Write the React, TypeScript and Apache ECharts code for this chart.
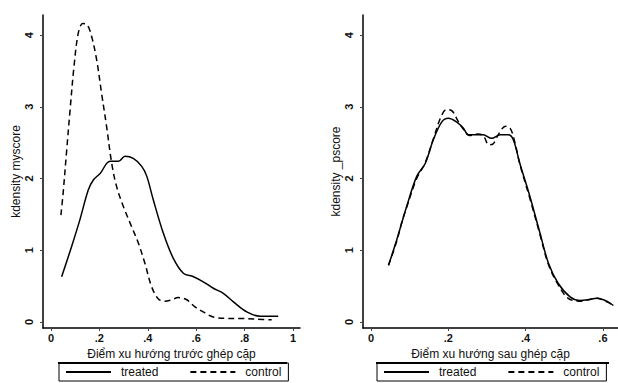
import React, { useEffect, useRef } from "react";
import * as echarts from "echarts";

// Left panel: before matching (kdensity myscore)
const beforeTreatedX = [0.044, 0.085, 0.119, 0.154, 0.175, 0.203, 0.244, 0.279, 0.306, 0.34, 0.375, 0.396, 0.423, 0.464, 0.505, 0.547, 0.589, 0.629, 0.671, 0.712, 0.754, 0.809, 0.864, 0.939];
const beforeTreatedY = [0.63, 1.05, 1.42, 1.84, 1.98, 2.07, 2.24, 2.24, 2.31, 2.28, 2.17, 2.03, 1.7, 1.24, 0.89, 0.68, 0.63, 0.56, 0.47, 0.4, 0.28, 0.14, 0.08, 0.08];
const beforeControlX = [0.041, 0.05, 0.065, 0.079, 0.095, 0.113, 0.131, 0.15, 0.168, 0.189, 0.209, 0.23, 0.251, 0.271, 0.299, 0.333, 0.361, 0.388, 0.416, 0.444, 0.471, 0.499, 0.526, 0.561, 0.595, 0.629, 0.671, 0.726, 0.781, 0.85, 0.912];
const beforeControlY = [1.49, 1.79, 2.4, 2.96, 3.56, 4.03, 4.16, 4.14, 3.98, 3.65, 3.19, 2.72, 2.21, 1.89, 1.61, 1.33, 1.1, 0.82, 0.49, 0.32, 0.29, 0.31, 0.34, 0.31, 0.21, 0.14, 0.07, 0.05, 0.05, 0.04, 0.03];

// Right panel: after matching (kdensity _pscore)
const afterTreatedX = [0.045, 0.066, 0.092, 0.118, 0.14, 0.161, 0.183, 0.2, 0.221, 0.239, 0.252, 0.273, 0.29, 0.312, 0.334, 0.355, 0.368, 0.385, 0.411, 0.437, 0.459, 0.484, 0.515, 0.54, 0.562, 0.584, 0.61, 0.627];
const afterTreatedY = [0.79, 1.14, 1.61, 2.03, 2.21, 2.54, 2.79, 2.84, 2.79, 2.7, 2.61, 2.61, 2.61, 2.56, 2.61, 2.61, 2.54, 2.21, 1.75, 1.24, 0.82, 0.54, 0.35, 0.3, 0.31, 0.33, 0.29, 0.23];
const afterControlX = [0.045, 0.066, 0.08, 0.092, 0.118, 0.14, 0.161, 0.18, 0.195, 0.21, 0.225, 0.24, 0.255, 0.275, 0.29, 0.305, 0.315, 0.33, 0.348, 0.36, 0.37, 0.385, 0.411, 0.437, 0.459, 0.484, 0.51, 0.54, 0.562, 0.584, 0.61, 0.627];
const afterControlY = [0.79, 1.12, 1.4, 1.6, 2.0, 2.22, 2.55, 2.85, 2.96, 2.94, 2.8, 2.68, 2.6, 2.62, 2.6, 2.47, 2.48, 2.62, 2.73, 2.7, 2.55, 2.2, 1.72, 1.22, 0.8, 0.52, 0.33, 0.29, 0.31, 0.33, 0.28, 0.23];

const yTicks = [0, 1, 2, 3, 4];
const xTicksBefore = [0, 0.2, 0.4, 0.6, 0.8, 1];
const xTicksAfter = [0, 0.2, 0.4, 0.6];

const legendNames = ["treated", "control"];
const titleBefore = "Điểm xu hướng trước ghép cặp";
const titleAfter = "Điểm xu hướng sau ghép cặp";
const yNameBefore = "kdensity myscore";
const yNameAfter = "kdensity _pscore";

const zip = (xs: number[], ys: number[]) => xs.map((x, i) => [x, ys[i]]);

const FONT = "'Liberation Sans', Arial, sans-serif";
const INK = "#111";

const fmtTick = (v: number) => {
  if (v === 0) return "0";
  if (v === 1) return "1";
  return String(Number(v.toFixed(2))).replace(/^0/, "");
};

function makeX(gridIndex: number, min: number, max: number, ticks: number[], name: string) {
  return {
    type: "value",
    gridIndex,
    min,
    max,
    name,
    nameLocation: "middle",
    nameGap: 18,
    nameTextStyle: { fontFamily: FONT, fontSize: 12, color: INK },
    axisLine: { show: true, onZero: false, lineStyle: { color: "#000", width: 1.5 } },
    axisTick: { show: true, length: 3, customValues: ticks, lineStyle: { color: "#444" } },
    axisLabel: {
      customValues: ticks,
      formatter: fmtTick,
      margin: 4,
      fontFamily: FONT,
      fontSize: 11,
      fontWeight: "bold",
      color: INK,
    },
    splitLine: { show: false },
  };
}

function makeY(gridIndex: number, name: string) {
  return {
    type: "value",
    gridIndex,
    min: -0.084,
    max: 4.28,
    name,
    nameLocation: "middle",
    nameGap: 20,
    nameTextStyle: { fontFamily: FONT, fontSize: 12, color: INK },
    axisLine: { show: true, onZero: false, lineStyle: { color: "#000", width: 1.5 } },
    axisTick: { show: true, length: 3, customValues: yTicks, lineStyle: { color: "#444" } },
    axisLabel: {
      customValues: yTicks,
      formatter: fmtTick,
      rotate: 90,
      margin: 9,
      fontFamily: FONT,
      fontSize: 11,
      fontWeight: "bold",
      color: INK,
    },
    splitLine: { show: false },
  };
}

function makeLegend(left: number) {
  return {
    data: legendNames,
    left,
    top: 363,
    orient: "horizontal",
    itemWidth: 45,
    itemHeight: 14,
    itemGap: 31,
    padding: [3, 7, 3, 6],
    borderColor: "#000",
    borderWidth: 1,
    selectedMode: false,
    itemStyle: { opacity: 0 },
    textStyle: { fontFamily: FONT, fontSize: 12, color: INK, padding: [0, 0, 0, 5] },
  };
}

function lineSeries(name: string, xIdx: number, data: number[][], dashed: boolean) {
  return {
    type: "line",
    name,
    xAxisIndex: xIdx,
    yAxisIndex: xIdx,
    data,
    smooth: 0.35,
    showSymbol: false,
    symbol: "none",
    lineStyle: {
      color: "#000",
      width: 1.5,
      type: dashed ? [6, 4] : "solid",
    },
    itemStyle: { color: "#000" },
  };
}

export default function App() {
  const ref = useRef<HTMLDivElement>(null);

  useEffect(() => {
    if (!ref.current) return;
    const chart = echarts.init(ref.current, undefined, { renderer: "svg" });
    chart.setOption({
      animation: false,
      backgroundColor: "#fff",
      grid: [
        { left: 43, top: 15, width: 257, height: 313 },
        { left: 363, top: 15, width: 255, height: 313 },
      ],
      xAxis: [
        makeX(0, -0.033, 1.029, xTicksBefore, titleBefore),
        makeX(1, -0.021, 0.639, xTicksAfter, titleAfter),
      ],
      yAxis: [makeY(0, yNameBefore), makeY(1, yNameAfter)],
      legend: [makeLegend(59), makeLegend(377)],
      graphic: [
        { type: "line", shape: { x1: 58, y1: 363, x2: 287, y2: 363 }, style: { stroke: "#000", lineWidth: 2 } },
        { type: "line", shape: { x1: 376, y1: 363, x2: 609, y2: 363 }, style: { stroke: "#000", lineWidth: 2 } },
      ],
      series: [
        lineSeries("treated", 0, zip(beforeTreatedX, beforeTreatedY), false),
        lineSeries("control", 0, zip(beforeControlX, beforeControlY), true),
        lineSeries("treated", 1, zip(afterTreatedX, afterTreatedY), false),
        lineSeries("control", 1, zip(afterControlX, afterControlY), true),
      ],
    });
    return () => chart.dispose();
  }, []);

  return (
    <div
      ref={ref}
      style={{ position: "fixed", left: 0, top: 0, width: 618, height: 383, background: "#fff" }}
    />
  );
}
